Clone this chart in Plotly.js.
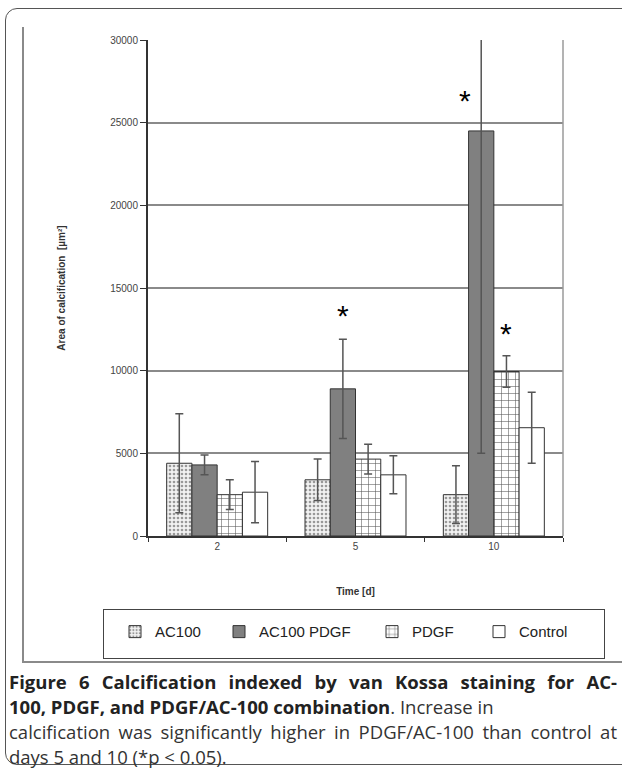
<!DOCTYPE html>
<html><head><meta charset="utf-8">
<script src="https://cdn.plot.ly/plotly-3.0.1.min.js"></script>
<style>
html,body{margin:0;padding:0;background:#fff;width:622px;height:773px;overflow:hidden;}
#wrap{position:relative;width:622px;height:773px;}
#chart{position:absolute;left:0;top:0;width:622px;height:773px;}
.frame{position:absolute;left:5px;top:8px;width:660px;height:757px;border:1.5px solid #555;border-radius:12px;box-sizing:border-box;pointer-events:none;}
.imgL{position:absolute;left:22px;top:27px;width:2px;height:636px;background:#8a8a8a;}
.imgB{position:absolute;left:22px;top:661px;width:600px;height:2px;background:#8a8a8a;}
.legbox{position:absolute;left:103px;top:609px;width:502px;height:50px;border:1.5px solid #444;box-sizing:border-box;pointer-events:none;}
.cap{position:absolute;left:9px;top:669px;width:608px;font-family:'Open Sans';font-size:18.5px;line-height:25px;color:#333;}
.cap div{white-space:nowrap;}
.cap .j{text-align:justify;text-align-last:justify;}
.cap b{color:#222;}
</style></head>
<body><div id="wrap">
<div class="frame"></div>
<div class="imgL"></div><div class="imgB"></div>
<div id="chart"></div>
<div class="legbox"></div>
<div class="cap">
<div class="j"><b>Figure 6 Calcification indexed by van Kossa staining for AC-</b></div>
<div><b>100, PDGF, and PDGF/AC-100 combination</b>. Increase in</div>
<div class="j">calcification was significantly higher in PDGF/AC-100 than control at</div>
<div>days 5 and 10 (*p &lt; 0.05).</div>
</div>
</div>
<script>
const categories = ['2', '5', '10'];
const seriesNames = ['AC100', 'AC100 PDGF', 'PDGF', 'Control'];
const ac100 = [4400, 3400, 2500];
const ac100Err = [3000, 1250, 1750];
const ac100Pdgf = [4300, 8900, 24500];
const ac100PdgfErr = [600, 3000, 19500];
const pdgf = [2500, 4650, 9950];
const pdgfErr = [900, 900, 950];
const control = [2650, 3700, 6550];
const controlErr = [1850, 1150, 2150];
const yTicks = [0, 5000, 10000, 15000, 20000, 25000, 30000];

const errStyle = (arr) => ({type: 'data', array: arr, visible: true, color: '#555', thickness: 1.5, width: 4});
const line = {color: '#333', width: 1};

const traces = [
  {type: 'bar', name: seriesNames[0], legend: 'legend', x: categories, y: ac100, error_y: errStyle(ac100Err),
   marker: {color: '#fff', line: line, pattern: {shape: '.', fgcolor: '#999', bgcolor: '#f2f2f2', size: 4, solidity: 0.35}}},
  {type: 'bar', name: seriesNames[1], legend: 'legend2', x: categories, y: ac100Pdgf, error_y: errStyle(ac100PdgfErr),
   marker: {color: '#808080', line: line}},
  {type: 'bar', name: seriesNames[2], legend: 'legend3', x: categories, y: pdgf, error_y: errStyle(pdgfErr),
   marker: {color: '#fff', line: line, pattern: {shape: '+', fgcolor: '#555', bgcolor: '#fff', size: 7, solidity: 0.15}}},
  {type: 'bar', name: seriesNames[3], legend: 'legend4', x: categories, y: control, error_y: errStyle(controlErr),
   marker: {color: '#fff', line: line}}
];

// category index positions for significance markers
const star = (catIndex, y, xs) => ({x: catIndex, y: y, xref: 'x', yref: 'y', text: '*', showarrow: false, xshift: xs, yshift: -6,
  font: {family: 'Liberation Sans, Arial', size: 30, color: '#000'}});

const legFont = {family: 'Liberation Sans, Arial', size: 15, color: '#222'};
const leg = (x) => ({orientation: 'h', x: x, xanchor: 'left', y: -0.16, yanchor: 'top', bgcolor: 'rgba(0,0,0,0)', font: legFont});

const layout = {
  width: 622, height: 773,
  margin: {l: 148, r: 59, t: 40, b: 237},
  paper_bgcolor: 'rgba(0,0,0,0)', plot_bgcolor: '#fff',
  barmode: 'group', bargap: 0.27, bargroupgap: 0,
  font: {family: 'Liberation Sans, Arial, sans-serif', size: 10, color: '#444'},
  xaxis: {type: 'category', tickson: 'boundaries', ticks: 'outside', ticklen: 4, tickcolor: '#333',
    showline: true, linecolor: '#333', linewidth: 2, mirror: false, showgrid: false,
    tickfont: {size: 10, color: '#444'},
    title: {text: '<b>Time [d]</b>', font: {size: 10, color: '#333'}, standoff: 37}},
  yaxis: {range: [0, 30000], tickvals: yTicks, tickformat: 'd', ticks: 'outside', ticklen: 6, tickcolor: '#333',
    showline: true, linecolor: '#333', linewidth: 2, showgrid: true, gridcolor: '#8a8a8a', gridwidth: 2,
    zeroline: false, tickfont: {size: 10, color: '#444'},
    title: {text: '<b>Area of calcification  [µm²]</b>', font: {size: 10, color: '#333'}, standoff: 43}},
  showlegend: true,
  legend: leg((115 - 148) / 415),
  legend2: leg((219 - 148) / 415),
  legend3: leg((372 - 148) / 415),
  legend4: leg((479 - 148) / 415),
  shapes: [
    {type: 'line', xref: 'paper', yref: 'paper', x0: 1, x1: 1, y0: 0, y1: 1, line: {color: '#9a9a9a', width: 1.5}}
  ],
  annotations: [
    star(1, 13700, -12.6),
    star(2, 26700, -29),
    star(2, 12600, 12.6)
  ]
};

Plotly.newPlot('chart', traces, layout, {staticPlot: true, displayModeBar: false});
</script>
</body></html>
